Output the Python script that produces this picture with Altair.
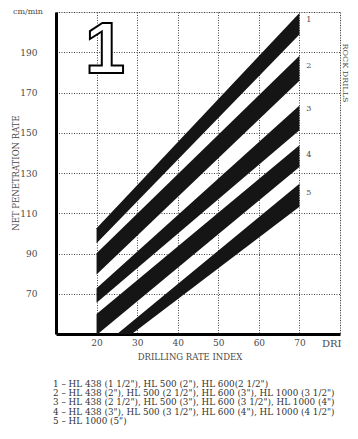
import altair as alt
import pandas as pd

# ---- data ----
band_ids = ["1", "2", "3", "4", "5"]
x_ends = [20, 70]
top_at_20 = [102.5, 90.1, 72.7, 59.9, 41.6]
bottom_at_20 = [95.1, 79.6, 65.5, 49.5, 36.7]
top_at_70 = [209.5, 188.3, 163.6, 143.8, 124.6]
bottom_at_70 = [198.8, 175.9, 151.2, 133.0, 113.2]

label_x = [71.7, 71.7, 71.7, 71.7, 71.7]
label_y = [206.0, 183.0, 162.0, 139.0, 120.0]

x_ticks = [20, 30, 40, 50, 60, 70, 80]
y_ticks = [70, 90, 110, 130, 150, 170, 190, 210]

legend_lines = [
    "1 \u2013 HL 438 (1 1/2\"), HL 500 (2\"), HL 600(2 1/2\")",
    "2 \u2013 HL 438 (2\"), HL 500 (2 1/2\"), HL 600 (3\"), HL 1000 (3 1/2\")",
    "3 \u2013 HL 438 (2 1/2\"), HL 500 (3\"), HL 600 (3 1/2\"), HL 1000 (4\")",
    "4 \u2013 HL 438 (3\"), HL 500 (3 1/2\"), HL 600 (4\"), HL 1000 (4 1/2\")",
    "5 \u2013 HL 1000 (5\")",
]

rows = []
for i, b in enumerate(band_ids):
    rows.append({"band": b, "dri": x_ends[0], "top": top_at_20[i], "bottom": bottom_at_20[i]})
    rows.append({"band": b, "dri": x_ends[1], "top": top_at_70[i], "bottom": bottom_at_70[i]})
bands = pd.DataFrame(rows)
labels = pd.DataFrame({"band": band_ids, "x": label_x, "y": label_y})

SERIF = "DejaVu Serif"
GREY = "#4a4a4a"

xs = alt.Scale(domain=[10, 80], nice=False, zero=False)
ys = alt.Scale(domain=[50, 210], nice=False, zero=False)

x_axis = alt.Axis(values=x_ticks, grid=True, gridDash=[1, 1.5], gridColor="#444", gridWidth=1,
                  ticks=False, domain=True, domainWidth=3, domainColor="black",
                  labelExpr="datum.value >= 80 ? '' : datum.label",
                  labelFont=SERIF, labelFontSize=9, labelColor=GREY, labelPadding=4,
                  title=None)
y_axis = alt.Axis(values=y_ticks, grid=True, gridDash=[1, 1.5], gridColor="#444", gridWidth=1,
                  ticks=False, domain=True, domainWidth=3, domainColor="black",
                  labelExpr="datum.value >= 210 ? '' : datum.label",
                  labelFont=SERIF, labelFontSize=9, labelColor=GREY, labelPadding=19,
                  title=None)

area = alt.Chart(bands).mark_area(clip=True, color="#151515", opacity=1).encode(
    x=alt.X("dri:Q", scale=xs, axis=x_axis),
    y=alt.Y("top:Q", scale=ys, axis=y_axis),
    y2="bottom:Q",
    detail="band:N",
)

band_labels = alt.Chart(labels).mark_text(font=SERIF, fontSize=8, color=GREY, align="left",
                                          baseline="middle").encode(
    x=alt.X("x:Q", scale=xs), y=alt.Y("y:Q", scale=ys), text="band:N")

def note(text, x, y, **kw):
    base = dict(font=SERIF, fontSize=8.5, color=GREY, align="center", baseline="middle")
    base.update(kw)
    return alt.Chart(pd.DataFrame({"t": [text]})).mark_text(**base).encode(
        x=alt.value(x), y=alt.value(y), text="t:N")

big_one = note("1", 49, 61, font="Liberation Sans", fontSize=72, fontWeight="bold",
               color="white", stroke="black", strokeWidth=2, baseline="alphabetic")
unit = note("cm/min", -13, 0, align="right", fontSize=8)
dri = note("DRI", 266, 332, align="left", fontSize=10)
x_title = note("DRILLING RATE INDEX", 134, 345, fontSize=8.5)
y_title = note("NET PENETRATION RATE", -40, 161, angle=270, fontSize=8.5)
r_title = note("ROCK DRILLS", 289, 61, angle=90, fontSize=8)

legend_layers = [note(line, -3, 372 + 9.2 * i, align="left", fontSize=8.8, color="#333")
                 for i, line in enumerate(legend_lines)]

chart = alt.layer(area, band_labels, big_one, unit, dri, x_title, y_title, r_title,
                  *legend_layers).properties(
    width=284, height=322,
    autosize=alt.AutoSizeParams(type="none"),
    padding={"left": 48, "top": 4, "right": 10, "bottom": 94},
).configure_view(stroke=None).configure(background="white")

chart.save("out.html", embed_options={"renderer": "svg", "actions": False})
